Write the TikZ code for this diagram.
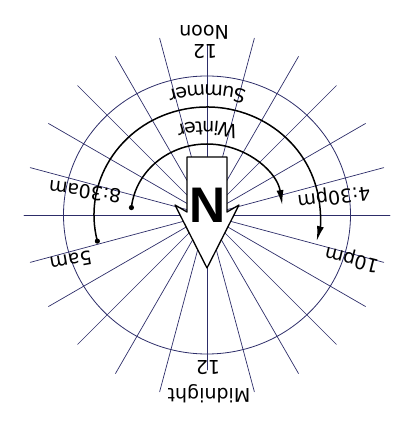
\documentclass[tikz,border=0pt]{standalone}
\usepackage{fontspec}
\setmainfont{DejaVu Sans}
\newfontfamily\arrowfont{Liberation Sans}
\usetikzlibrary{arrows.meta,decorations.text}
\definecolor{raycol}{RGB}{45,45,105}
\newcommand{\lblfont}{\fontsize{19}{19}\selectfont}
\tikzset{
  ray/.style={draw=raycol,line width=0.7pt},
  ring/.style={draw=raycol,line width=0.8pt},
  sunarc/.style={line width=1.5pt,-{Latex[length=15pt,width=7pt]}},
  lbl/.style={font=\lblfont,inner sep=0pt},
  every picture/.style={line cap=round,line join=round}}

\begin{document}
\begin{tikzpicture}[x=1pt,y=1pt]
  \useasboundingbox (-207,-210) rectangle (208,215);
  \coordinate (o) at (0,0);
  \foreach \a in {0,15,...,345}{
    \ifnum\a=90 \def\r{170}\else\ifnum\a=270 \def\r{155}\else\def\r{183}\fi\fi
    \draw[ray] (\a:12) -- (\a:\r);}
  \draw[ring] (o) ellipse[x radius=143.5pt,y radius=139pt];
  \coordinate (w0) at (174:76pt and 71pt);\coordinate (s0) at (194:113pt and 108pt);
  \draw[sunarc] (w0) arc[start angle=174,end angle=8,x radius=76pt,y radius=71pt];
  \draw[sunarc] (s0) arc[start angle=194,end angle=-14,x radius=113pt,y radius=108pt];
  \fill (w0) circle[radius=2.6pt];\fill (s0) circle[radius=2.6pt];
  \path[decorate,decoration={text along path,text align=center,text={|\lblfont|Summer}}]
    (45:134pt and 130pt) arc[start angle=45,end angle=135,x radius=134pt,y radius=130pt];
  \path[decorate,decoration={text along path,text align=center,text={|\lblfont|Winter}}]
    (40:98pt and 94pt) arc[start angle=40,end angle=140,x radius=98pt,y radius=94pt];
  \node[lbl,rotate=180] (noon) at (-3,183){Noon};\node[lbl,rotate=180] (twelve) at (-2,163){12};
  \node[lbl,rotate=180] (mid) at (2,-179){Midnight};\node[lbl,rotate=180] (twelve2) at (1,-153){12};
  \node[lbl,rotate=173] (t830) at (-122,23){8:30am};\node[lbl,rotate=190] (t5) at (-136,-46){5am};
  \node[lbl,rotate=187] (t430) at (127,19){4:30pm};\node[lbl,rotate=166] (t10) at (145,-44){10pm};
  \draw[line width=1.3pt,fill=white] (-20,58) -- (20,58) -- (20,3) -- (32,10) -- (0,-53)
    -- (-32,10) -- (-20,3) -- cycle;
  \node[font=\arrowfont\bfseries\fontsize{50}{50}\selectfont,inner sep=0pt] (n) at (0.5,10){N};
\end{tikzpicture}
\end{document}
